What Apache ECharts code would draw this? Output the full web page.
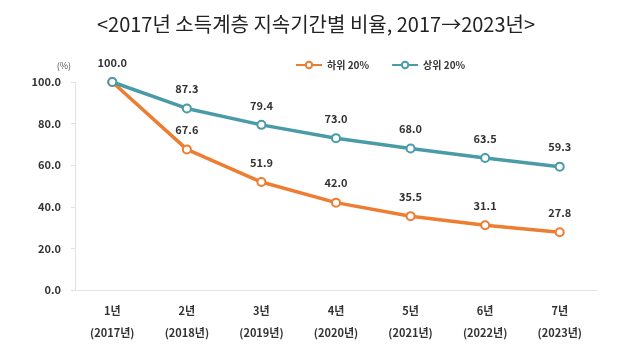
<!DOCTYPE html>
<html><head><meta charset="utf-8">
<script src="https://cdn.jsdelivr.net/npm/echarts@6/dist/echarts.min.js"></script>
<style>html,body{margin:0;padding:0;background:#fff}#c{width:632px;height:355px}</style>
</head><body><div id="c"></div>
<script>
var categories = ['1년\n(2017년)','2년\n(2018년)','3년\n(2019년)','4년\n(2020년)','5년\n(2021년)','6년\n(2022년)','7년\n(2023년)'];
var lower20 = [100.0, 67.6, 51.9, 42.0, 35.5, 31.1, 27.8];
var upper20 = [100.0, 87.3, 79.4, 73.0, 68.0, 63.5, 59.3];
var seriesNames = ['하위 20%', '상위 20%'];
var FONT = '"Noto Sans CJK KR", "Open Sans", sans-serif';
var chart = echarts.init(document.getElementById('c'));
function lbl(){return {show:true,position:'top',distance:9,fontFamily:FONT,fontWeight:'bold',fontSize:11,color:'#333',formatter:function(p){return p.value.toFixed(1);}};}
chart.setOption({
  animation:false,
  title:{text:'<2017년 소득계층 지속기간별 비율, 2017→2023년>',left:'center',top:9,textStyle:{fontFamily:FONT,fontSize:20,fontWeight:'normal',color:'#222'}},
  legend:{top:55,left:290,itemGap:22,itemWidth:26,itemHeight:8,textStyle:{fontFamily:FONT,fontSize:10,fontWeight:'bold',color:'#333'},data:seriesNames},
  grid:{left:75,right:35,top:82,bottom:65},
  xAxis:{type:'category',data:categories,boundaryGap:true,
    axisLine:{lineStyle:{color:'#e2e2e2',width:1}},axisTick:{show:false},
    axisLabel:{fontFamily:FONT,fontWeight:'bold',fontSize:11,color:'#333',lineHeight:22,margin:10}},
  yAxis:{type:'value',min:0,max:100,interval:20,name:'(%)',nameLocation:'end',nameGap:12,
    nameTextStyle:{fontFamily:FONT,fontSize:9,color:'#555',align:'right',padding:[0,4,0,0]},
    axisLine:{show:true,lineStyle:{color:'#e2e2e2'}},axisTick:{show:true,length:4,lineStyle:{color:'#e2e2e2'}},
    splitLine:{show:false},
    axisLabel:{fontFamily:FONT,fontWeight:'bold',fontSize:11,color:'#333',margin:14,formatter:function(v){return v.toFixed(1);}}},
  series:[
    {name:seriesNames[0],type:'line',data:lower20.map(function(v,i){return i===0?{value:v,label:{show:false}}:v;}),color:'#ED7D31',lineStyle:{width:3.5,color:'#ED7D31'},symbol:'circle',symbolSize:8,
     itemStyle:{color:'#fff',borderColor:'#ED7D31',borderWidth:2},label:lbl(),z:2},
    {name:seriesNames[1],type:'line',data:upper20,color:'#4A9BA8',lineStyle:{width:3.5,color:'#4A9BA8'},symbol:'circle',symbolSize:8,
     itemStyle:{color:'#fff',borderColor:'#4A9BA8',borderWidth:2},label:lbl(),z:3}
  ]
});
</script></body></html>
